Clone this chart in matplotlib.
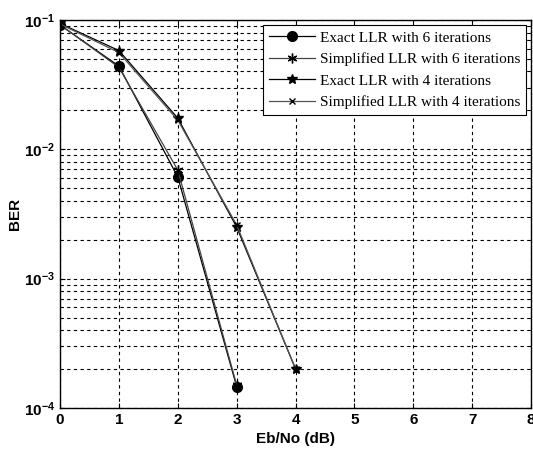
import matplotlib
matplotlib.use("Agg")
import matplotlib.pyplot as plt
from matplotlib.ticker import LogLocator, NullFormatter

ebno6 = [0, 1, 2, 3]
exact6 = [0.0915, 0.044, 0.0061, 1.46e-4]
simp6 = [0.092, 0.043, 0.0069, 1.5e-4]
ebno4 = [0, 1, 2, 3, 4]
exact4 = [0.094, 0.058, 0.0174, 0.0025, 2.0e-4]
simp4 = [0.093, 0.056, 0.0168, 0.0026, 2.0e-4]
labels = ["Exact LLR with 6 iterations", "Simplified LLR with 6 iterations",
          "Exact LLR with 4 iterations", "Simplified LLR with 4 iterations"]

plt.rcParams['mathtext.default'] = 'bf'
plt.rcParams['mathtext.fontset'] = 'custom'
plt.rcParams['mathtext.bf'] = 'Liberation Sans:bold'
plt.rcParams['mathtext.rm'] = 'Liberation Sans'

fig = plt.figure(figsize=(5.33, 4.5), dpi=100)
ax = fig.add_axes([0.1126, 0.0933, 0.884, 0.8623])

ax.semilogy(ebno6, exact6, '-o', color='black', lw=0.9, ms=7, label=labels[0])
ax.semilogy(ebno6, simp6, '-', marker=(6, 2, 0), color='#444444', lw=0.9, ms=7, mec='black', label=labels[1])
ax.semilogy(ebno4, exact4, '-*', color='black', lw=0.9, ms=7, label=labels[2])
ax.semilogy(ebno4, simp4, '-x', color='#555555', lw=0.9, ms=4, mec='black', label=labels[3])

ax.set_xlim(0, 8)
ax.set_ylim(1e-4, 1e-1)
ax.set_xticks(range(0, 9))
ax.yaxis.set_major_locator(LogLocator(base=10, numticks=10))
ax.yaxis.set_minor_locator(LogLocator(base=10, subs=range(2, 10), numticks=20))
ax.yaxis.set_minor_formatter(NullFormatter())
ax.grid(True, which='both', linestyle=(0, (3, 3)), color='black', lw=0.8)
ax.tick_params(direction='in', which='both', top=True, right=True)
ax.tick_params(labelsize=11)
for lab in ax.get_xticklabels() + ax.get_yticklabels():
    lab.set_fontweight('bold')
    lab.set_family('Liberation Sans')
ax.set_xlabel('Eb/No (dB)', fontweight='bold', fontsize=11, family='Liberation Sans', labelpad=4)
ax.set_ylabel('BER', fontweight='bold', fontsize=11, family='Liberation Sans')
ax.yaxis.set_label_coords(-0.08, 0.5)
for s in ax.spines.values():
    s.set_linewidth(1.0)

leg = ax.legend(loc='upper right', prop={'family': 'Liberation Serif', 'size': 11},
                frameon=True, fancybox=False, edgecolor='black', framealpha=1,
                borderpad=0.4, labelspacing=0.5, handlelength=3, handletextpad=0.3,
                borderaxespad=0, bbox_to_anchor=(0.989, 0.987))
leg.get_frame().set_linewidth(0.8)

fig.savefig('out.png', dpi=100)
